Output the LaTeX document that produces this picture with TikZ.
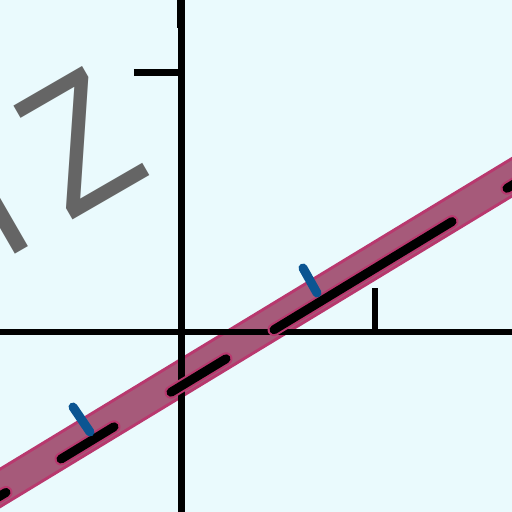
\documentclass[tikz,border=0pt]{standalone}
\usepackage{fontspec}
\setmainfont{Liberation Sans}
\definecolor{bgc}{HTML}{EAFAFD}
\definecolor{bandedge}{HTML}{B8386E}
\definecolor{bandfill}{HTML}{A65A7A}
\definecolor{tickblue}{HTML}{0B5592}
\definecolor{letter}{HTML}{656565}
\tikzset{
  axisline/.style={line width=6.5*0.569pt, black},
  dashseg/.style={line width=9*0.569pt, black, line cap=round},
  dashhalo/.style={line width=13*0.569pt, bandedge, line cap=round},
  bluetick/.style={line width=9*0.569pt, tickblue, line cap=round},
}
\begin{document}
\begin{tikzpicture}[x=0.02cm, y=-0.02cm]
\fill[bgc] (0,0) rectangle (512,512);
\useasboundingbox (0,0) rectangle (512,512);
% band
\coordinate (b1) at (-20,500.1);
\coordinate (b2) at (532,165.1);
\draw[line width=35*0.569pt, bandedge] (b1) -- (b2);
\draw[line width=29*0.569pt, bandfill] (b1) -- (b2);
% axes
\coordinate (vt) at (181.5,-5);
\coordinate (vb) at (181.5,517);
\coordinate (hl) at (-5,332);
\coordinate (hr) at (517,332);
\draw[axisline] (vt) -- (vb);
\coordinate (vtt) at (179,-2);
\coordinate (vtb) at (179,28);
\draw[line width=5*0.569pt] (vtt) -- (vtb);
\draw[axisline] (hl) -- (hr);
\coordinate (yt1) at (134,72);
\coordinate (yt2) at (181,72);
\draw[line width=7*0.569pt] (yt1) -- (yt2);
\coordinate (xt1) at (375,288);
\coordinate (xt2) at (375,332);
\draw[line width=6*0.569pt] (xt1) -- (xt2);
% dashes
\coordinate (dA1) at (-20,508.1); \coordinate (dA2) at (6,492.4);
\coordinate (dB1) at (61,459.0);  \coordinate (dB2) at (114,426.8);
\coordinate (dC1) at (171,392.2); \coordinate (dC2) at (226,358.8);
\coordinate (dD1) at (274,329.7); \coordinate (dD2) at (452,221.6);
\coordinate (dE1) at (507,188.3); \coordinate (dE2) at (540,168.2);
\foreach \a/\b in {dA1/dA2,dB1/dB2,dC1/dC2,dD1/dD2,dE1/dE2}{
  \draw[dashhalo] (\a) -- (\b);
}
\foreach \a/\b in {dA1/dA2,dB1/dB2,dC1/dC2,dD1/dD2,dE1/dE2}{
  \draw[dashseg] (\a) -- (\b);
}
% blue ticks
\coordinate (t1a) at (90,432); \coordinate (t1b) at (73,407);
\coordinate (t2a) at (317,293); \coordinate (t2b) at (303,268);
\draw[bluetick] (t1a) -- (t1b);
\draw[bluetick] (t2a) -- (t2b);
% text
\node (lbl) [rotate=30, xscale=0.87, anchor=base east, inner sep=0pt, text=letter,
  font=\fontsize{106}{106}\selectfont] at (155,173) {H\kern22.4pt Z};
\end{tikzpicture}
\end{document}
